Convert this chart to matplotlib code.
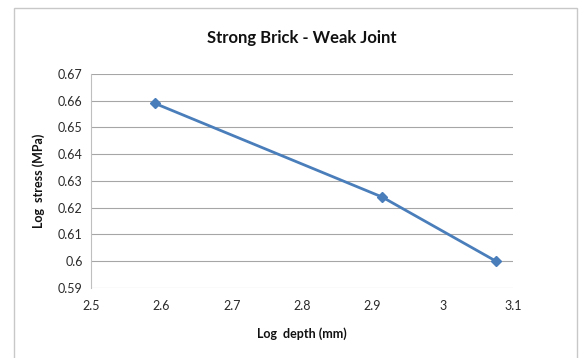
import matplotlib
matplotlib.use("Agg")
import matplotlib.pyplot as plt
from matplotlib.patches import Rectangle

# Data
log_depth = [2.591, 2.914, 3.076]
log_stress = [0.659, 0.624, 0.600]
x_ticks = [2.5, 2.6, 2.7, 2.8, 2.9, 3.0, 3.1]
x_tick_labels = ["2.5", "2.6", "2.7", "2.8", "2.9", "3", "3.1"]
y_ticks = [0.59, 0.60, 0.61, 0.62, 0.63, 0.64, 0.65, 0.66, 0.67]
y_tick_labels = ["0.59", "0.6", "0.61", "0.62", "0.63", "0.64", "0.65", "0.66", "0.67"]

plt.rcParams["font.family"] = ["Lato", "DejaVu Sans"]

W, H = 583, 358
fig = plt.figure(figsize=(W / 100, H / 100), dpi=100)
fig.patch.set_facecolor("white")

# Chart frame
fig.add_artist(Rectangle((14 / W, -0.05), (577 - 14) / W, 1 - 8 / H + 0.05,
                         transform=fig.transFigure, fill=False,
                         edgecolor="#c8c8c8", linewidth=1.0))

ax = fig.add_axes([91 / W, 1 - 288 / H, (513 - 91) / W, (288 - 74) / H])
ax.plot(log_depth, log_stress, color="#4a7ebb", linewidth=2.0,
        marker="D", markersize=5, markeredgecolor="#4a7ebb", zorder=3)

ax.set_xlim(2.5, 3.1)
ax.set_ylim(0.59, 0.67)
ax.set_xticks(x_ticks)
ax.set_xticklabels(x_tick_labels)
ax.set_yticks(y_ticks)
ax.set_yticklabels(y_tick_labels)
ax.tick_params(length=0, labelsize=9, colors="#2a2a2a", pad=6)
ax.tick_params(axis="x", pad=9)
ax.yaxis.grid(True, color="#a6a6a6", linewidth=0.8)
ax.set_axisbelow(True)
for s in ["top", "right", "bottom"]:
    ax.spines[s].set_visible(False)
ax.spines["left"].set_color("#bfbfbf")
ax.spines["left"].set_linewidth(0.8)

ax.set_xlabel("Log  depth (mm)", fontsize=9, fontweight="bold", color="#111111", labelpad=11)
ax.set_ylabel("Log  stress (MPa)", fontsize=9, fontweight="bold", color="#111111", labelpad=9)
fig.text(0.5 * (91 + 513) / W, 1 - 38 / H, "Strong Brick - Weak Joint",
         ha="center", va="center", fontsize=12, fontweight="bold", color="#111111")

fig.savefig("out.png", dpi=100)
